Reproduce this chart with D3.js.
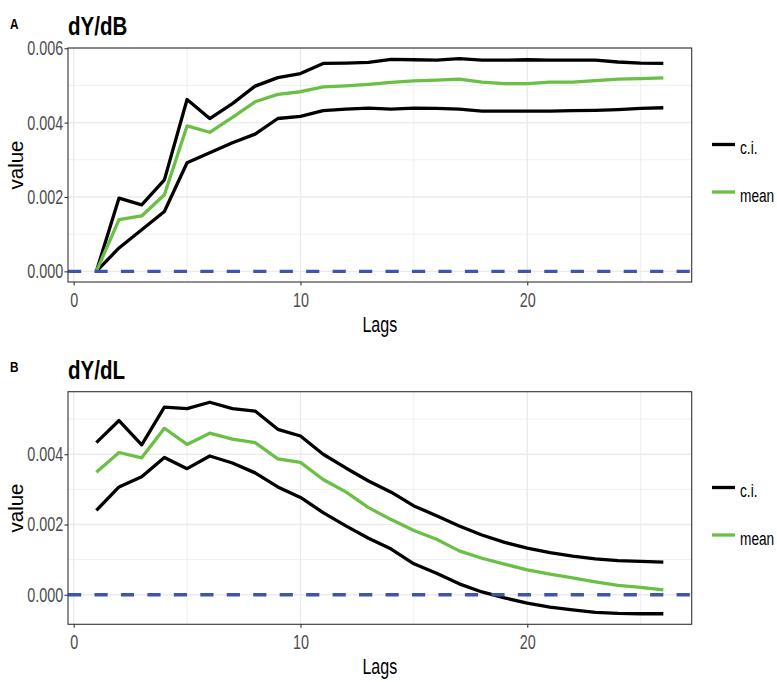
<!DOCTYPE html>
<html>
<head>
<meta charset="utf-8">
<script src="https://cdn.jsdelivr.net/npm/d3@7"></script>
<style>
  html, body { margin: 0; padding: 0; background: #fff; }
  svg { display: block; }
  text { font-family: "Liberation Sans", Arial, sans-serif; }
</style>
</head>
<body>
<svg id="chart" width="777" height="682"></svg>
<script>
// ---- data ----
const lags = d3.range(1, 27);

const dB_upper = [0, 0.00197, 0.00179, 0.00246, 0.00462, 0.00411, 0.00451, 0.00498, 0.00521, 0.00532,
  0.00559, 0.00560, 0.00562, 0.00570, 0.00569, 0.00568, 0.00572, 0.00568, 0.00568, 0.00569,
  0.00568, 0.00568, 0.00568, 0.00563, 0.00560, 0.00559];
const dB_mean = [0, 0.00139, 0.00149, 0.00206, 0.00391, 0.00374, 0.00414, 0.00456, 0.00476, 0.00483,
  0.00496, 0.00499, 0.00503, 0.00508, 0.00512, 0.00514, 0.00517, 0.00509, 0.00505, 0.00505,
  0.00509, 0.00509, 0.00513, 0.00517, 0.00518, 0.00520];
const dB_lower = [0, 0.00063, 0.00112, 0.00161, 0.00292, 0.00319, 0.00346, 0.00369, 0.00411, 0.00417,
  0.00432, 0.00436, 0.00439, 0.00436, 0.00439, 0.00438, 0.00436, 0.00431, 0.00431, 0.00431,
  0.00431, 0.00432, 0.00433, 0.00435, 0.00438, 0.00440];

const dL_upper = [0.00433, 0.00496, 0.00427, 0.00534, 0.00530, 0.00548, 0.00530, 0.00523, 0.00471, 0.00452,
  0.00400, 0.00361, 0.00324, 0.00292, 0.00253, 0.00225, 0.00196, 0.00170, 0.00149, 0.00133,
  0.00120, 0.00110, 0.00102, 0.00097, 0.00095, 0.00093];
const dL_mean = [0.00349, 0.00405, 0.00390, 0.00474, 0.00428, 0.00460, 0.00443, 0.00433, 0.00387, 0.00377,
  0.00328, 0.00293, 0.00248, 0.00214, 0.00183, 0.00158, 0.00125, 0.00104, 0.00087, 0.00071,
  0.00059, 0.00048, 0.00037, 0.00027, 0.00021, 0.00014];
const dL_lower = [0.00240, 0.00307, 0.00336, 0.00391, 0.00359, 0.00395, 0.00375, 0.00347, 0.00307, 0.00277,
  0.00234, 0.00196, 0.00161, 0.00130, 0.00088, 0.00061, 0.00031, 0.00008, -0.00009, -0.00024,
  -0.00035, -0.00043, -0.00050, -0.00053, -0.00054, -0.00054];

const xTicks = [0, 10, 20];
const xMinor = [5, 15, 25];
const yTicks = [0, 0.002, 0.004, 0.006];
const yMinor = [0.001, 0.003, 0.005];
const legendLabels = ["c.i.", "mean"];
const panelTags = ["A", "B"];
const panelTitles = ["dY/dB", "dY/dL"];
const xTitle = "Lags";
const yTitle = "value";
const refValue = 0;

// ---- styling ----
const colCI = "#000000";
const colMean = "#6abf45";
const colRef = "#3f53b0";

const svg = d3.select("#chart");

// condensed text helper (horizontal squeeze of Liberation Sans)
function ntext(g, x, y, str, size, sx, anchor, weight, fill) {
  return g.append("text")
    .attr("transform", `translate(${x},${y}) scale(${sx},1)`)
    .attr("text-anchor", anchor || "start")
    .style("font-size", size + "px")
    .style("font-weight", weight || "normal")
    .attr("fill", fill || "#000")
    .text(str);
}

function drawPanel(idx, top, bottom, upper, mean, lower) {
  const left = 68, right = 691.7;
  const g = svg.append("g");

  const xr = (26 - 1) * 0.05;
  const x = d3.scaleLinear().domain([1 - xr, 26 + xr]).range([left, right]);

  const all = upper.concat(mean, lower, [refValue]);
  const lo = d3.min(all), hi = d3.max(all);
  const e = (hi - lo) * 0.05;
  const y = d3.scaleLinear().domain([lo - e, hi + e]).range([bottom, top]);
  const [d0, d1] = y.domain();
  const inY = v => v >= d0 && v <= d1;

  // grid
  const grid = g.append("g");
  yMinor.filter(inY).forEach(v => grid.append("line")
    .attr("x1", left).attr("x2", right).attr("y1", y(v)).attr("y2", y(v))
    .attr("stroke", "#ebebeb").attr("stroke-width", 0.8));
  xMinor.forEach(v => grid.append("line")
    .attr("y1", top).attr("y2", bottom).attr("x1", x(v)).attr("x2", x(v))
    .attr("stroke", "#ebebeb").attr("stroke-width", 0.8));
  yTicks.filter(inY).forEach(v => grid.append("line")
    .attr("x1", left).attr("x2", right).attr("y1", y(v)).attr("y2", y(v))
    .attr("stroke", "#ebebeb").attr("stroke-width", 1.4));
  xTicks.forEach(v => grid.append("line")
    .attr("y1", top).attr("y2", bottom).attr("x1", x(v)).attr("x2", x(v))
    .attr("stroke", "#ebebeb").attr("stroke-width", 1.4));

  // lines
  const line = d3.line().x((d, i) => x(lags[i])).y(d => y(d));
  [[upper, colCI], [lower, colCI], [mean, colMean]].forEach(([arr, c]) => {
    g.append("path").datum(arr).attr("d", line)
      .attr("fill", "none").attr("stroke", c).attr("stroke-width", 3.3)
      .attr("stroke-linejoin", "round").attr("stroke-linecap", "butt");
  });

  // reference dashed line
  g.append("line").attr("x1", left).attr("x2", right)
    .attr("y1", y(refValue)).attr("y2", y(refValue))
    .attr("stroke", colRef).attr("stroke-width", 3.3)
    .attr("stroke-dasharray", "13.2,13.26");

  // border
  g.append("rect").attr("x", left).attr("y", top)
    .attr("width", right - left).attr("height", bottom - top)
    .attr("fill", "none").attr("stroke", "#333333").attr("stroke-width", 1.1);

  // axes (ticks via d3 axes; labels condensed)
  const SX = 0.72;
  const yAxis = d3.axisLeft(y).tickValues(yTicks.filter(inY))
    .tickFormat(d3.format(".3f")).tickSize(3.5).tickPadding(1.3);
  const ya = g.append("g").attr("transform", `translate(${left},0)`).call(yAxis);
  const xAxis = d3.axisBottom(x).tickValues(xTicks).tickFormat(d3.format("d"))
    .tickSize(3.5).tickPadding(7);
  const xa = g.append("g").attr("transform", `translate(0,${bottom})`).call(xAxis);
  [ya, xa].forEach(a => {
    a.select(".domain").remove();
    a.selectAll(".tick line").attr("stroke", "#333333").attr("stroke-width", 1.1);
    a.selectAll(".tick text")
      .attr("fill", "#4d4d4d")
      .attr("font-family", null)
      .attr("font-size", null)
      .style("font-family", "'Liberation Sans', Arial, sans-serif")
      .style("font-size", "20px")
      .attr("x", function () { return (+this.getAttribute("x") || 0) / SX; })
      .attr("transform", `scale(${SX},1)`);
  });

  // titles
  ntext(g, 10, top - 19.3, panelTags[idx], 15.5, 0.76, "start", "bold");
  ntext(g, left, top - 12.8, panelTitles[idx], 25, 0.82, "start", "bold");
  ntext(g, (left + right) / 2, bottom + 49.5, xTitle, 22, 0.73, "middle");
  g.append("text").attr("transform", `translate(23,${(top + bottom) / 2}) rotate(-90)`)
    .attr("text-anchor", "middle")
    .style("font-size", "20.5px").text(yTitle);

  // legend
  const mid = (top + bottom) / 2;
  const leg = [[legendLabels[0], colCI, mid - 20.5], [legendLabels[1], colMean, mid + 27]];
  leg.forEach(([lab, c, yy]) => {
    g.append("line").attr("x1", 712).attr("x2", 735).attr("y1", yy).attr("y2", yy)
      .attr("stroke", c).attr("stroke-width", 3.3);
    ntext(g, 740, yy + 9.5, lab, 19, 0.72, "start");
  });
}

drawPanel(0, 48, 282, dB_upper, dB_mean, dB_lower);
drawPanel(1, 391.7, 624.3, dL_upper, dL_mean, dL_lower);
</script>
</body>
</html>
